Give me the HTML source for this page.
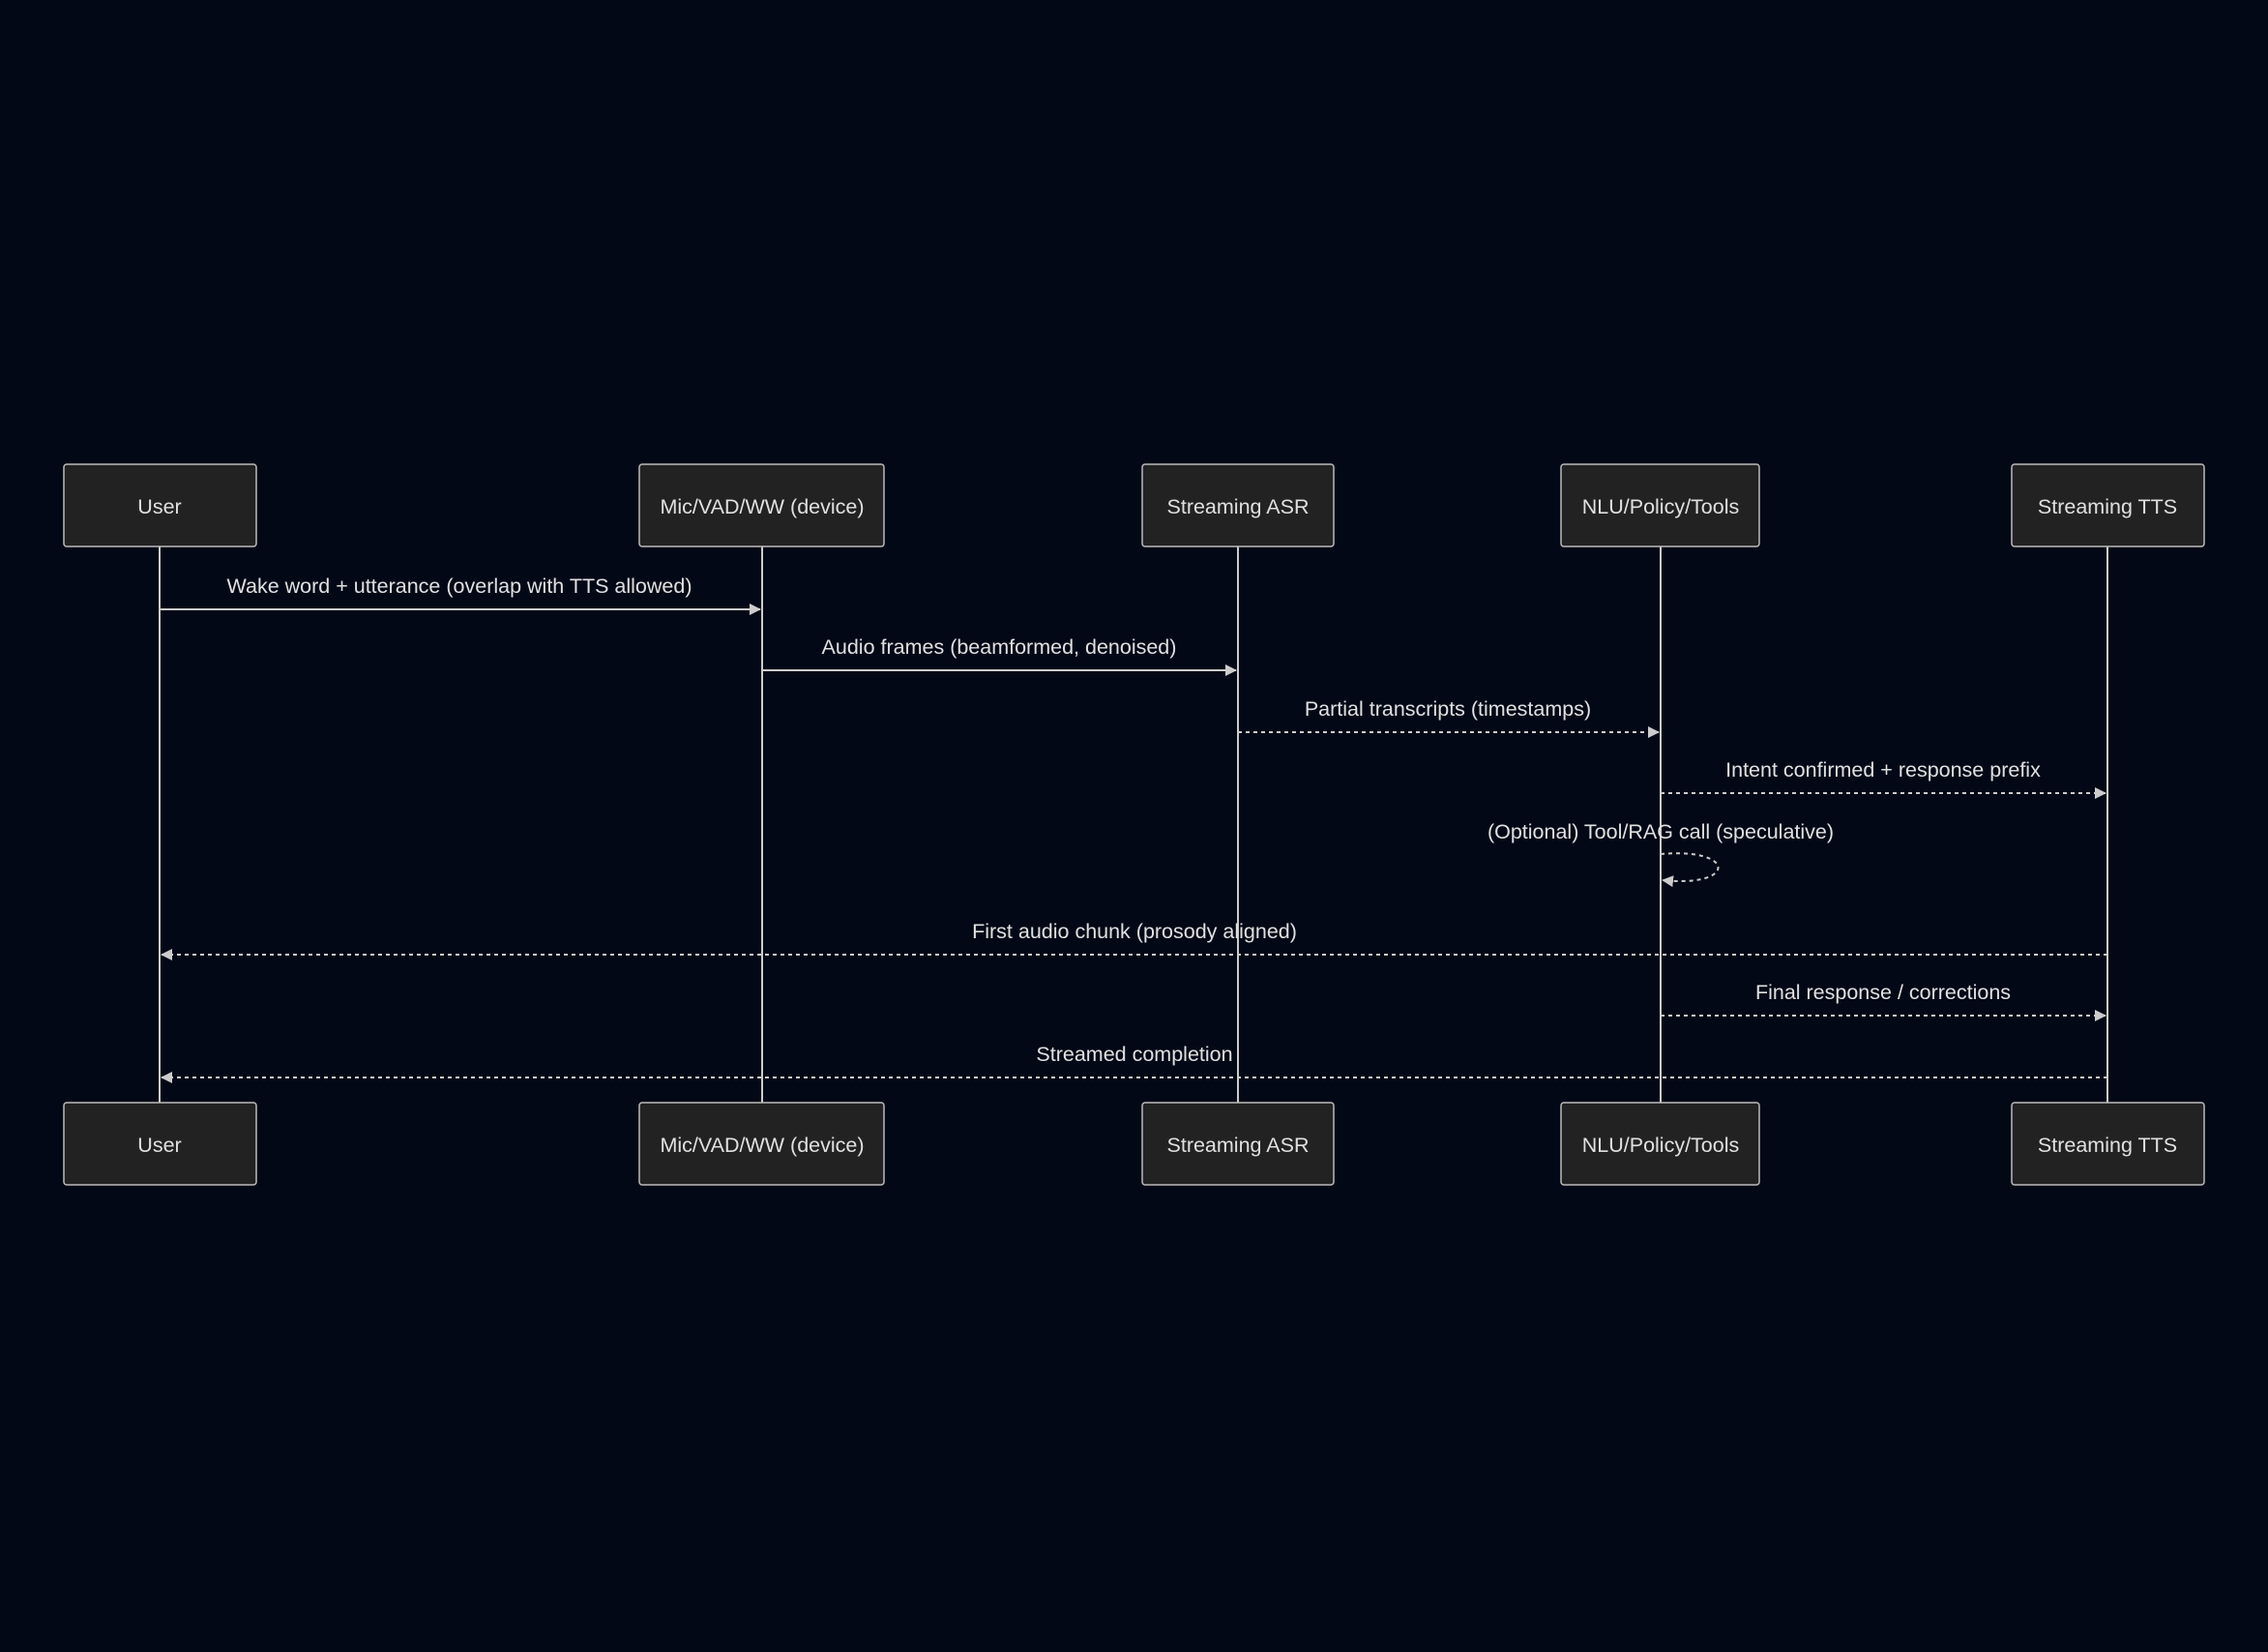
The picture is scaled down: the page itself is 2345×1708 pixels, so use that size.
<!DOCTYPE html>
<html><head><meta charset="utf-8"><style>
html,body{margin:0;padding:0;background:#020816;}
svg{display:block}
text{font-family:"Liberation Sans",sans-serif;font-size:21.5px;fill:#e0e0e0;text-anchor:middle;dominant-baseline:central}
.box{fill:#222;stroke:#bbb;stroke-width:1.5}
.ll{stroke:#ccc;stroke-width:2}
.m{stroke:#ccc;stroke-width:2;fill:none}
.d{stroke-dasharray:4 4}
</style></head><body>
<svg width="2345" height="1708" viewBox="0 0 2345 1708">
<defs><marker id="a" markerWidth="12" markerHeight="12" refX="11" refY="6" orient="auto" markerUnits="userSpaceOnUse"><path d="M0,0 L12,6 L0,12 z" fill="#ccc"/></marker></defs>
<g>
<line class="ll" x1="165" y1="565" x2="165" y2="1140"/>
<line class="ll" x1="788" y1="565" x2="788" y2="1140"/>
<line class="ll" x1="1280" y1="565" x2="1280" y2="1140"/>
<line class="ll" x1="1717" y1="565" x2="1717" y2="1140"/>
<line class="ll" x1="2179" y1="565" x2="2179" y2="1140"/>
</g>
<g>
<rect class="box" x="66" y="480" width="199" height="85" rx="3"/><text x="165" y="524">User</text>
<rect class="box" x="661" y="480" width="253" height="85" rx="3"/><text x="788" y="524">Mic/VAD/WW (device)</text>
<rect class="box" x="1181" y="480" width="198" height="85" rx="3"/><text x="1280" y="524">Streaming ASR</text>
<rect class="box" x="1614" y="480" width="205" height="85" rx="3"/><text x="1717" y="524">NLU/Policy/Tools</text>
<rect class="box" x="2080" y="480" width="199" height="85" rx="3"/><text x="2179" y="524">Streaming TTS</text>
<rect class="box" x="66" y="1140" width="199" height="85" rx="3"/><text x="165" y="1184">User</text>
<rect class="box" x="661" y="1140" width="253" height="85" rx="3"/><text x="788" y="1184">Mic/VAD/WW (device)</text>
<rect class="box" x="1181" y="1140" width="198" height="85" rx="3"/><text x="1280" y="1184">Streaming ASR</text>
<rect class="box" x="1614" y="1140" width="205" height="85" rx="3"/><text x="1717" y="1184">NLU/Policy/Tools</text>
<rect class="box" x="2080" y="1140" width="199" height="85" rx="3"/><text x="2179" y="1184">Streaming TTS</text>
</g>
<text x="475" y="606">Wake word + utterance (overlap with TTS allowed)</text>
<line class="m" x1="165" y1="630" x2="786" y2="630" marker-end="url(#a)"/>
<text x="1033" y="669">Audio frames (beamformed, denoised)</text>
<line class="m" x1="788" y1="693" x2="1278" y2="693" marker-end="url(#a)"/>
<text x="1497" y="733">Partial transcripts (timestamps)</text>
<line class="m d" x1="1280" y1="757" x2="1715" y2="757" marker-end="url(#a)"/>
<text x="1947" y="796">Intent confirmed + response prefix</text>
<line class="m d" x1="1717" y1="820" x2="2177" y2="820" marker-end="url(#a)"/>
<text x="1717" y="860">(Optional) Tool/RAG call (speculative)</text>
<path class="m d" d="M1717,883 C1796,876 1796,918 1719,910" marker-end="url(#a)"/>
<text x="1173" y="963">First audio chunk (prosody aligned)</text>
<line class="m d" x1="2179" y1="987" x2="167" y2="987" marker-end="url(#a)"/>
<text x="1947" y="1026">Final response / corrections</text>
<line class="m d" x1="1717" y1="1050" x2="2177" y2="1050" marker-end="url(#a)"/>
<text x="1173" y="1090">Streamed completion</text>
<line class="m d" x1="2179" y1="1114" x2="167" y2="1114" marker-end="url(#a)"/>
</svg>
</body></html>
